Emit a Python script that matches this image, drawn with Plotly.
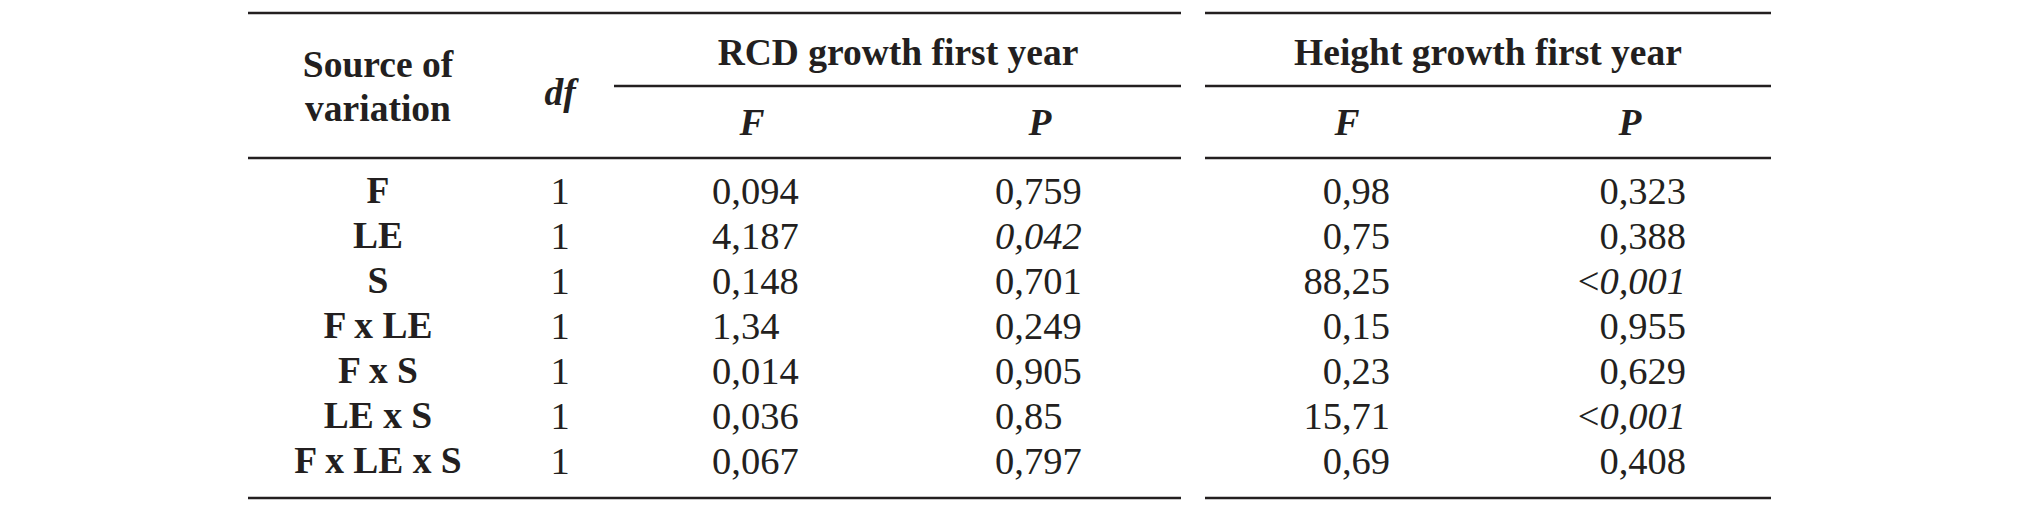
import plotly.graph_objects as go

# данные таблицы
sources = ["F", "LE", "S", "F x LE", "F x S", "LE x S", "F x LE x S"]
df_vals = [1, 1, 1, 1, 1, 1, 1]
rcd_F = ["0,094", "4,187", "0,148", "1,34", "0,014", "0,036", "0,067"]
rcd_P = ["0,759", "0,042", "0,701", "0,249", "0,905", "0,85", "0,797"]
height_F = ["0,98", "0,75", "88,25", "0,15", "0,23", "15,71", "0,69"]
height_P = ["0,323", "0,388", "<0,001", "0,955", "0,629", "<0,001", "0,408"]

groups = ["RCD growth first year", "Height growth first year"]
sub_headers = ["F", "P"]

W, H = 2019, 510
OFF = 8  # отступ body в браузере
FONT = "Liberation Serif, Times New Roman, serif"
INK = "#231f20"
SIZE_HEAD = 37.5
SIZE_BODY = 38.5


def fmt_p(s):
    # значимые значения курсивом
    if s.startswith("<"):
        return "&lt;<i>" + s[1:] + "</i>"
    if float(s.replace(",", ".")) < 0.05:
        return "<i>" + s + "</i>"
    return s


# позиции
row_y = [194 + 45 * i for i in range(len(sources))]
x_src, x_df = 378, 560
x_rcd_F, x_rcd_P = 712, 995      # выравнивание по левому краю
x_h_F, x_h_P = 1390, 1686        # выравнивание по правому краю

fig = go.Figure()


def add_text(x, y, text, pos, bold=False, size=SIZE_BODY):
    if bold:
        text = ["<b>" + t + "</b>" for t in text]
    fig.add_trace(go.Scatter(
        x=x, y=y, text=text, mode="text", textposition=pos,
        textfont=dict(family=FONT, size=size, color=INK),
        hoverinfo="skip", showlegend=False,
    ))


n = len(sources)
add_text([x_src] * n, row_y, sources, "middle center", bold=True, size=SIZE_HEAD)
add_text([x_df] * n, row_y, [str(v) for v in df_vals], "middle center")
add_text([x_rcd_F] * n, row_y, rcd_F, "middle right")
add_text([x_rcd_P] * n, row_y, [fmt_p(v) for v in rcd_P], "middle right")
add_text([x_h_F] * n, row_y, height_F, "middle left")
add_text([x_h_P] * n, row_y, [fmt_p(v) for v in height_P], "middle left")

# шапка
add_text([x_src, x_src], [68, 112], ["Source of", "variation"], "middle center",
         bold=True, size=SIZE_HEAD)
add_text([x_df], [96], ["<i>df</i>"], "middle center", bold=True, size=SIZE_HEAD)
add_text([898, 1488], [56, 56], groups, "middle center", bold=True, size=SIZE_HEAD)
add_text([752, 1040, 1347, 1630], [126] * 4,
         ["<i>" + s + "</i>" for s in sub_headers * 2], "middle center",
         bold=True, size=SIZE_HEAD)

# линии
segments = [(248, 1181), (1205, 1771)]
for y in (13, 158, 498):
    for a, b in segments:
        fig.add_shape(type="line", x0=a, x1=b, y0=y, y1=y, xref="x", yref="y",
                      line=dict(color=INK, width=2.4))
for a, b in [(614, 1181), (1205, 1771)]:
    fig.add_shape(type="line", x0=a, x1=b, y0=86, y1=86, xref="x", yref="y",
                  line=dict(color=INK, width=2.4))

fig.update_layout(
    width=W - OFF, height=H - OFF,
    margin=dict(l=0, r=0, t=0, b=0),
    paper_bgcolor="white", plot_bgcolor="white",
    xaxis=dict(range=[OFF, W], visible=False, fixedrange=True),
    yaxis=dict(range=[H, OFF], visible=False, fixedrange=True),
)

fig.write_html("out.html")
